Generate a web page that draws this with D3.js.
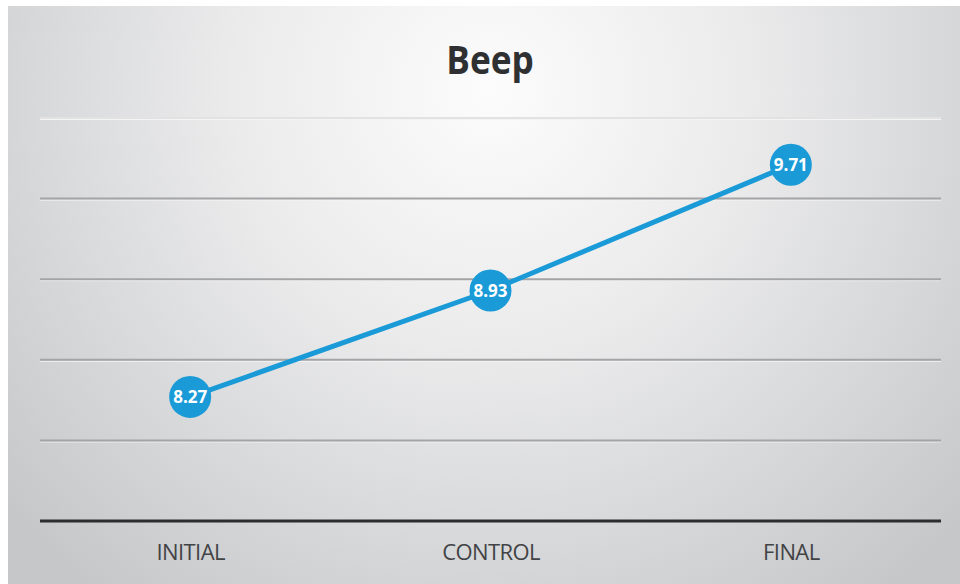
<!DOCTYPE html>
<html>
<head>
<meta charset="utf-8">
<script src="https://cdn.jsdelivr.net/npm/d3@7"></script>
<style>
  html, body { margin: 0; padding: 0; background: #fff; }
  svg { display: block; }
</style>
</head>
<body>
<div id="chart"></div>
<script>
// data
const categories = ['INITIAL', 'CONTROL', 'FINAL'];
const values = [8.27, 8.93, 9.71];
const gridTicks = [8, 8.5, 9, 9.5, 10];
const title = 'Beep';

const width = 960, height = 584;
const margin = {top: 118, right: 19, bottom: 63, left: 40};

const svg = d3.select('#chart').append('svg')
  .attr('width', width).attr('height', height);

// background panel with soft radial light
const defs = svg.append('defs');
const grad = defs.append('radialGradient').attr('id', 'bg')
  .attr('gradientUnits', 'userSpaceOnUse')
  .attr('cx', 490).attr('cy', 90).attr('r', 640);
grad.append('stop').attr('offset', '0%').attr('stop-color', '#fcfcfc');
grad.append('stop').attr('offset', '40%').attr('stop-color', '#ebebec');
grad.append('stop').attr('offset', '75%').attr('stop-color', '#d5d6d8');
grad.append('stop').attr('offset', '100%').attr('stop-color', '#c6c7c9');

svg.append('rect').attr('x', 8).attr('y', 6)
  .attr('width', width - 8).attr('height', height - 6)
  .attr('fill', 'url(#bg)');

const x = d3.scalePoint().domain(categories)
  .range([margin.left, width - margin.right]).padding(0.5);
const y = d3.scaleLinear().domain([7.5, 10])
  .range([height - margin.bottom, margin.top]);

const g = svg.append('g');

// gridlines
g.selectAll('.grid-shadow').data(gridTicks).enter().append('line')
  .attr('class', 'grid-shadow')
  .attr('x1', margin.left).attr('x2', width - margin.right)
  .attr('y1', d => y(d) + 1.5).attr('y2', d => y(d) + 1.5)
  .attr('stroke', '#f4f4f4').attr('stroke-width', 1);
g.selectAll('.grid').data(gridTicks).enter().append('line')
  .attr('class', 'grid')
  .attr('x1', margin.left).attr('x2', width - margin.right)
  .attr('y1', d => y(d)).attr('y2', d => y(d))
  .attr('stroke', d => d === 10 ? '#e2e2e2' : '#a3a4a6')
  .attr('stroke-width', 2);

// x axis
const xAxis = d3.axisBottom(x).tickSize(0).tickPadding(23);
const xAxisG = svg.append('g')
  .attr('transform', `translate(0,${height - margin.bottom})`)
  .call(xAxis);
xAxisG.select('.domain').remove();
xAxisG.append('line')
  .attr('x1', margin.left).attr('x2', width - margin.right)
  .attr('y1', 0).attr('y2', 0)
  .attr('stroke', '#2c2d2f').attr('stroke-width', 3);
xAxisG.selectAll('text')
  .style('font-family', '"Open Sans", sans-serif')
  .style('font-size', '22px')
  .style('letter-spacing', '-0.6px')
  .style('fill', '#424345');

// line
const line = d3.line().x((d, i) => x(categories[i])).y(d => y(d));
g.append('path').datum(values)
  .attr('d', line)
  .attr('fill', 'none')
  .attr('stroke', '#1a9bd7')
  .attr('stroke-width', 5);

// points
const pts = g.selectAll('.pt').data(values).enter().append('g')
  .attr('class', 'pt')
  .attr('transform', (d, i) => `translate(${x(categories[i])},${y(d)})`);
pts.append('circle').attr('r', 21).attr('fill', '#1a9bd7');
pts.append('text')
  .attr('text-anchor', 'middle').attr('dy', '0.36em')
  .style('font-family', '"Open Sans", sans-serif')
  .style('font-weight', 'bold')
  .style('font-size', '17px')
  .style('fill', '#ffffff')
  .text(d => d3.format('.2f')(d));

// title
svg.append('text')
  .attr('x', 490).attr('y', 74)
  .attr('text-anchor', 'middle')
  .attr('transform', 'translate(490,0) scale(0.88,1) translate(-490,0)')
  .style('font-family', '"Open Sans", sans-serif')
  .style('font-weight', 'bold')
  .style('font-size', '40px')
  .style('fill', '#2f3032')
  .text(title);
</script>
</body>
</html>
